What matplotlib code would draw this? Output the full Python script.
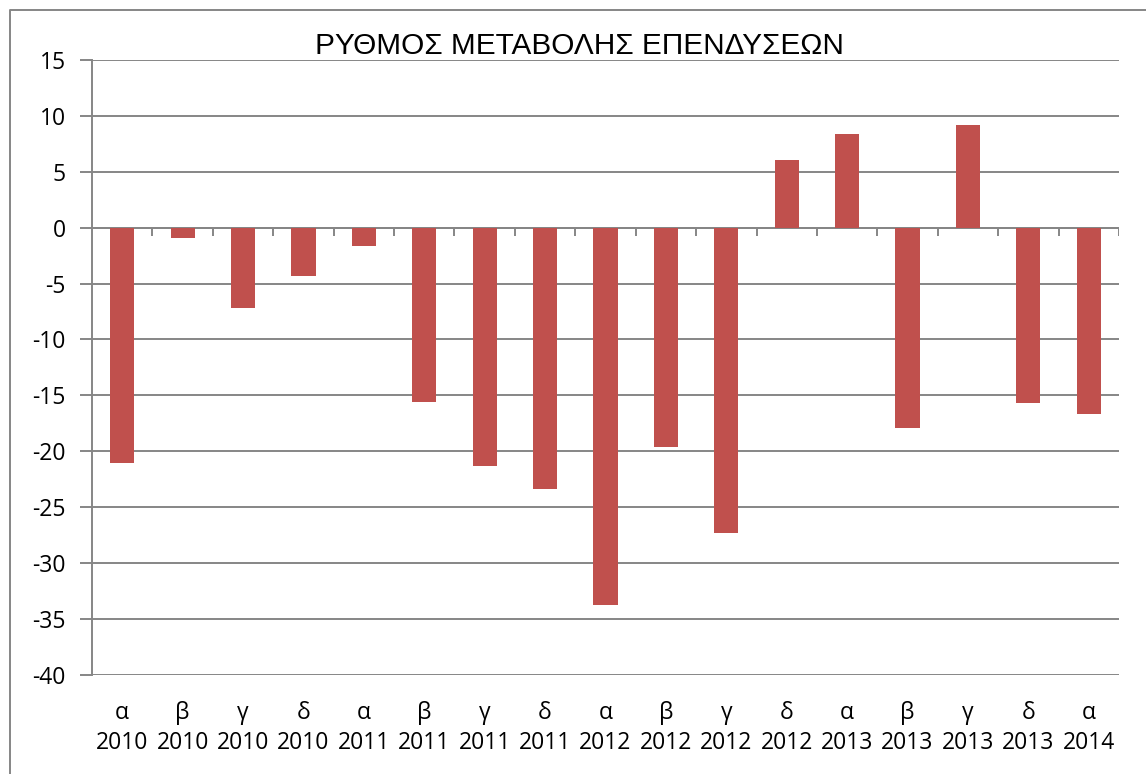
import matplotlib
matplotlib.use("Agg")
import matplotlib.pyplot as plt
import numpy as np
from matplotlib.lines import Line2D

quarters = ["α", "β", "γ", "δ", "α", "β", "γ", "δ", "α", "β", "γ", "δ", "α", "β", "γ", "δ", "α"]
years = ["2010", "2010", "2010", "2010", "2011", "2011", "2011", "2011",
         "2012", "2012", "2012", "2012", "2013", "2013", "2013", "2013", "2014"]
values = [-21.1, -0.9, -7.2, -4.3, -1.6, -15.6, -21.3, -23.4,
          -33.8, -19.6, -27.3, 6.05, 8.4, -17.9, 9.2, -15.7, -16.7]
yticks = [15, 10, 5, 0, -5, -10, -15, -20, -25, -30, -35, -40]

grey = "#868686"
tick_font = ["Open Sans", "DejaVu Sans"]

fig = plt.figure(figsize=(11.46, 7.74), dpi=100)
ax = fig.add_axes([0.0803, 0.1283, 0.8961, 0.7942])

x = np.arange(len(values))
ax.bar(x, values, width=0.4, color="#C0504D", zorder=3)

ax.set_xlim(-0.5, len(values) - 0.5)
ax.set_ylim(-40, 15)
ax.set_yticks(yticks)
ax.set_yticklabels([str(v) for v in yticks], family=tick_font, fontsize=16.5)
ax.yaxis.grid(True, color=grey, linewidth=1.4, zorder=0)
ax.tick_params(axis="y", length=9, width=1.4, color=grey, pad=10)

ax.set_xticks(x)
ax.set_xticklabels([f"{q}\n{y}" for q, y in zip(quarters, years)],
                   family=tick_font, fontsize=16.5, linespacing=1.35)
ax.tick_params(axis="x", length=0, pad=19)

# zero line with category separators
ax.axhline(0, color=grey, linewidth=1.4, zorder=2)
ax.vlines(x + 0.5, -0.75, 0, color=grey, linewidth=1.4, zorder=2)

for side in ["top", "right", "bottom"]:
    ax.spines[side].set_visible(False)
ax.spines["left"].set_color(grey)
ax.spines["left"].set_linewidth(1.4)

ax.set_title("ΡΥΘΜΟΣ ΜΕΤΑΒΟΛΗΣ ΕΠΕΝΔΥΣΕΩΝ", family=["Liberation Sans", "DejaVu Sans"],
             fontsize=21.4, pad=-1, x=0.475)

# outer chart border
fig.add_artist(Line2D([0.0087, 0.0087, 1.0], [0.0, 0.987, 0.987],
                      transform=fig.transFigure, color=grey, linewidth=1.4))

fig.savefig("out.png", dpi=100)
